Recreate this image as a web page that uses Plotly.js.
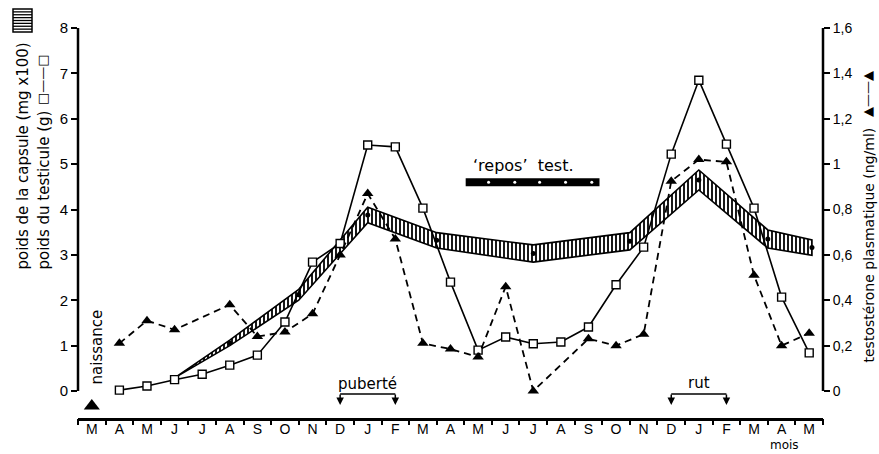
<!DOCTYPE html>
<html><head><meta charset="utf-8">
<script src="https://cdn.plot.ly/plotly-3.0.1.min.js"></script>
<style>body{margin:0;background:#fff}#chart{width:879px;height:454px}</style>
</head><body><div id="chart"></div>
<script>
// ---- data ----
const months = ['M','A','M','J','J','A','S','O','N','D','J','F','M','A','M','J','J','A','S','O','N','D','J','F','M','A','M'];
const testicule = [null,0.02,0.11,0.25,0.37,0.57,0.79,1.52,2.84,3.25,5.42,5.38,4.03,2.40,0.90,1.19,1.04,1.08,1.41,2.34,3.17,5.22,6.85,5.44,4.03,2.07,0.84];
const testosterone = [null,0.21,0.31,0.27,null,0.38,0.24,0.26,0.34,0.60,0.87,0.67,0.21,0.185,0.15,0.46,0.0,null,0.23,0.20,0.25,0.925,1.02,1.01,0.51,0.20,0.255];
const capsuleX = [3,5,7.5,10,12.5,16,19.5,22,24.5,26.1];
const capsuleMid = [0.29,1.06,2.12,3.88,3.32,3.03,3.30,4.65,3.35,3.16];
const capsuleHalf = [0,0.06,0.12,0.17,0.17,0.19,0.19,0.22,0.20,0.17];
const leftTicks = [0,1,2,3,4,5,6,7,8];
const rightTicks = [0,0.2,0.4,0.6,0.8,1,1.2,1.4,1.6];
const rightTickText = ['0','0,2','0,4','0,6','0,8','1','1,2','1,4','1,6'];
const reposStart = 13.55, reposEnd = 18.4, reposLevel = 4.6;
const reposDots = [14.38,15.33,16.23,17.17,18.12];
const naissanceMonth = 0;
const puberteMonths = [9,11];
const rutMonths = [21,23];

// ---- build ----
const idx = months.map((m,i)=>i);
const bounds = months.concat(['']).map((m,i)=>i-0.5);
const upper = capsuleMid.map((v,i)=>v+capsuleHalf[i]);
const lower = capsuleMid.map((v,i)=>v-capsuleHalf[i]);
const FONT = 'Liberation Sans, Arial, sans-serif';
const TFONT = 'DejaVu Sans, Liberation Sans, sans-serif';

const traces = [
  // invisible trace so the boundary-tick axis is drawn
  {x: bounds, y: bounds.map(()=>null), xaxis:'x2', mode:'markers', hoverinfo:'skip'},
  {x: capsuleX.concat(capsuleX.slice().reverse()), y: upper.concat(lower.slice().reverse()),
   mode:'lines', fill:'toself', line:{color:'black', width:1.6},
   fillcolor:'white', fillpattern:{shape:'|', size:4, solidity:0.45, fgcolor:'black', bgcolor:'white'},
   hoverinfo:'skip'},
  {x: capsuleX, y: capsuleMid, mode:'markers', marker:{color:'black', size:5}},
  {x: idx, y: testicule, mode:'lines', connectgaps:true, line:{color:'black', width:1.6}},
  {x: idx, y: testicule, mode:'markers',
   marker:{symbol:'square', size:8, color:'white', line:{color:'black', width:1.4}}},
  {x: idx, y: testosterone, yaxis:'y2', mode:'lines+markers', connectgaps:true,
   line:{color:'black', width:1.8, dash:'7px,5px'},
   marker:{symbol:'triangle-up', size:10, color:'black'}},
  {x: [reposStart, reposEnd], y: [reposLevel, reposLevel], mode:'lines', line:{color:'black', width:8}},
  {x: reposDots, y: reposDots.map(()=>reposLevel), mode:'markers', marker:{color:'white', size:3}},
  {x: [naissanceMonth], y: [-0.33], mode:'markers', cliponaxis:false, marker:{symbol:'triangle-up', size:14, color:'black'}}
];

function px2py(p){ return (418-p)/390; }
function px2px(p){ return (p-78)/745; }

const shapes = [
  {type:'line', xref:'paper', yref:'y', x0:0, x1:0, y0:0, y1:8, line:{color:'black', width:2.5}},
  {type:'line', xref:'paper', yref:'y', x0:1, x1:1, y0:0, y1:8, line:{color:'black', width:2.5}},
];
[puberteMonths, rutMonths].forEach(m=>{
  shapes.push({type:'line', xref:'x', yref:'y', x0:m[0], x1:m[1], y0:-0.066, y1:-0.066, line:{color:'black', width:1.5}});
});
// hatched legend box (left title)
const bx0 = px2px(13), bx1 = px2px(32), by0 = px2py(32), by1 = px2py(9);
shapes.push({type:'rect', xref:'paper', yref:'paper', x0:bx0, x1:bx1, y0:by0, y1:by1, line:{color:'black', width:1.5}, fillcolor:'white'});
for (let k=1;k<8;k++){
  const yy = px2py(9 + k*23/8);
  shapes.push({type:'line', xref:'paper', yref:'paper', x0:bx0, x1:bx1, y0:yy, y1:yy, line:{color:'black', width:1.3}});
}

const annotations = [
  {text:'‘repos’\u00a0 test.', x:15.65, y:4.98, xref:'x', yref:'y', showarrow:false, font:{size:16, family:TFONT}},
  {text:'puberté', x:10, y:0.15, xref:'x', yref:'y', showarrow:false, font:{size:15, family:TFONT}},
  {text:'rut', x:22, y:0.17, xref:'x', yref:'y', showarrow:false, font:{size:15, family:TFONT}},
  {text:'naissance', x:0.17, y:0.97, xref:'x', yref:'y', showarrow:false, textangle:-90, font:{size:15, family:TFONT}},
  {text:'mois', x:25.1, y:0, yshift:-(454-418), xref:'x', yref:'paper', yanchor:'bottom', xanchor:'center', showarrow:false, font:{size:12, family:TFONT}},
  {text:'poids de la capsule (mg x100)', x:px2px(22), y:px2py(272), xref:'paper', yref:'paper', xanchor:'center', yanchor:'bottom', showarrow:false, textangle:-90, font:{size:15, family:TFONT}},
  {text:'poids du testicule (g)', x:px2px(43), y:px2py(272), xref:'paper', yref:'paper', xanchor:'center', yanchor:'bottom', showarrow:false, textangle:-90, font:{size:15, family:TFONT}},
  {text:'□——□', x:px2px(43), y:px2py(80), xref:'paper', yref:'paper', xanchor:'center', yanchor:'middle', showarrow:false, textangle:-90, font:{size:13, family:TFONT}},
  {text:'testostérone plasmatique (ng/ml)', x:px2px(868), y:px2py(365), xref:'paper', yref:'paper', xanchor:'center', yanchor:'bottom', showarrow:false, textangle:-90, font:{size:14, family:TFONT}},
  {text:'▲——▲', x:px2px(868), y:px2py(94), xref:'paper', yref:'paper', xanchor:'center', yanchor:'middle', showarrow:false, textangle:-90, font:{size:13, family:TFONT}},
];
[puberteMonths, rutMonths].forEach(m=>{
  m.forEach(v=>annotations.push({x:v, y:-0.31, xref:'x', yref:'y', text:'', showarrow:true, arrowhead:2, arrowsize:1, arrowwidth:1.5, ax:0, ay:-12, arrowcolor:'black'}));
});

const layout = {
  width:879, height:454,
  margin:{l:78, r:56, t:28, b:36},
  paper_bgcolor:'white', plot_bgcolor:'white', showlegend:false,
  font:{family:FONT, size:14, color:'black'},
  xaxis:{range:[-0.5,26.5], tickmode:'array', tickvals:idx, ticktext:months, ticks:'',
         showline:true, linewidth:2.5, linecolor:'black', showgrid:false, zeroline:false,
         tickfont:{size:14}, ticklabelstandoff:-3},
  xaxis2:{overlaying:'x', anchor:'y', side:'bottom', range:[-0.5,26.5], tickmode:'array', tickvals:bounds,
          showticklabels:false, ticks:'outside', ticklen:6, tickwidth:2, tickcolor:'black',
          showline:false, showgrid:false, zeroline:false},
  yaxis:{range:[-0.595,8], tickmode:'array', tickvals:leftTicks, ticks:'outside', ticklen:6, tickwidth:2, tickcolor:'black',
         showline:false, showgrid:false, zeroline:false, tickfont:{size:15}},
  yaxis2:{overlaying:'y', side:'right', anchor:'x', range:[-0.119,1.6], tickmode:'array', tickvals:rightTicks, ticktext:rightTickText,
          ticks:'outside', ticklen:6, tickwidth:2, tickcolor:'black', showline:false, showgrid:false, zeroline:false, tickfont:{size:14}},
  shapes:shapes, annotations:annotations
};
Plotly.newPlot('chart', traces, layout, {staticPlot:true});
</script></body></html>
